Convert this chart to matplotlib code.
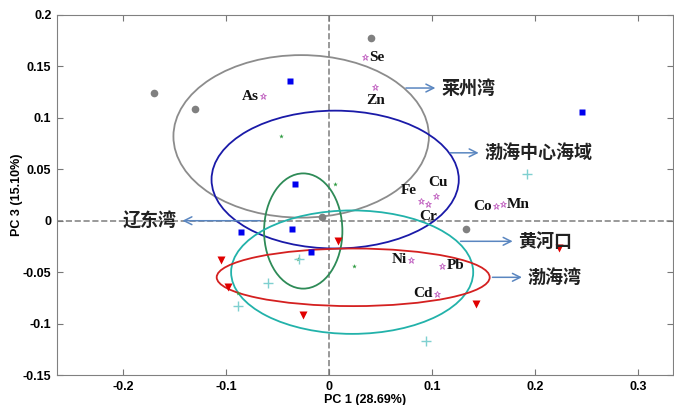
import matplotlib
matplotlib.use("Agg")
import matplotlib.pyplot as plt
from matplotlib.patches import Ellipse

# sample scores (PC1, PC3) per sea area
laizhou_x = [-0.170, -0.130, 0.041, -0.007, 0.133]
laizhou_y = [0.124, 0.109, 0.178, 0.004, -0.008]
center_x = [-0.038, -0.033, 0.246, -0.085, -0.036, -0.017]
center_y = [0.136, 0.036, 0.106, -0.011, -0.008, -0.030]
bohaiwan_x = [-0.105, -0.098, -0.025, 0.009, 0.223, 0.143]
bohaiwan_y = [-0.038, -0.064, -0.092, -0.020, -0.027, -0.081]
liaodong_x = [-0.047, 0.006, 0.024, -0.030, -0.088]
liaodong_y = [0.082, 0.036, -0.044, -0.037, -0.070]
huanghe_x = [0.192, -0.059, -0.088, -0.029, 0.094]
huanghe_y = [0.045, -0.061, -0.083, -0.037, -0.117]

# element loadings
elements = ["Se", "Zn", "As", "Fe", "Cr", "Cu", "Co", "Mn", "Ni", "Pb", "Cd"]
elem_x = [0.035, 0.045, -0.064, 0.089, 0.096, 0.104, 0.162, 0.169, 0.080, 0.110, 0.105]
elem_y = [0.159, 0.130, 0.121, 0.019, 0.016, 0.024, 0.014, 0.016, -0.038, -0.044, -0.071]

# ellipses: centre x, centre y, width, height
ell_laizhou = (-0.027, 0.082, 0.248, 0.158)
ell_center = (0.006, 0.040, 0.240, 0.134)
ell_liaodong = (-0.025, -0.010, 0.076, 0.112)
ell_huanghe = (0.0225, -0.050, 0.235, 0.120)
ell_bohaiwan = (0.0235, -0.055, 0.265, 0.056)

fig = plt.figure(figsize=(6.74, 4.05), dpi=100)
ax = fig.add_axes([0.0846, 0.074, 0.914, 0.889])

ax.axhline(0, color="#888888", ls="--", lw=1.2, zorder=1)
ax.axvline(0, color="#888888", ls="--", lw=1.2, zorder=1)

for e, c in [(ell_laizhou, "#8c8c8c"), (ell_center, "#1a1aa8"), (ell_liaodong, "#2e8b57"),
             (ell_huanghe, "#22b2aa"), (ell_bohaiwan, "#d42020")]:
    ax.add_patch(Ellipse((e[0], e[1]), e[2], e[3], fill=False, edgecolor=c, lw=1.3, zorder=2))

ax.plot(laizhou_x, laizhou_y, "o", color="#808080", ms=5.5, mec="none", zorder=3)
ax.plot(center_x, center_y, "s", color="#0000ee", ms=4.5, mec="none", zorder=3)
ax.plot(bohaiwan_x, bohaiwan_y, "v", color="#e00000", ms=5.5, mec="none", zorder=3)
ax.plot(liaodong_x, liaodong_y, "*", color="#2e9b40", ms=3.5, mec="none", zorder=3)
ax.plot(huanghe_x, huanghe_y, "+", color="#7fd0d0", ms=7, mew=1, zorder=3)
ax.plot(elem_x, elem_y, "*", mfc="none", mec="#c060c0", ms=4.5, mew=0.6, lw=0, zorder=4)

# label offsets in points
offs = {"Se": (3, 0, "left", "center"), "Zn": (0, -5, "center", "top"),
        "As": (-3, 0, "right", "center"), "Fe": (-3, 3, "right", "bottom"),
        "Cr": (0, -4, "center", "top"), "Cu": (1, 5, "center", "bottom"),
        "Co": (-3, 0, "right", "center"), "Mn": (3, 0, "left", "center"),
        "Ni": (-3, 0, "right", "center"), "Pb": (3, 0, "left", "center"),
        "Cd": (-3, 0, "right", "center")}
for name, x, y in zip(elements, elem_x, elem_y):
    dx, dy, ha, va = offs[name]
    ax.annotate(name, (x, y), xytext=(dx, dy), textcoords="offset points",
                ha=ha, va=va, fontsize=11, fontweight="bold",
                family="Liberation Serif", color="#111111", zorder=5)

# region labels with arrows
arrow_col = "#5a86c0"
regions = [("莱州湾", (0.072, 0.129), (0.106, 0.129)),
           ("渤海中心海域", (0.115, 0.066), (0.148, 0.066)),
           ("辽东湾", (-0.064, 0.0), (-0.145, 0.0)),
           ("黄河口", (0.125, -0.020), (0.181, -0.020)),
           ("渤海湾", (0.156, -0.055), (0.190, -0.055))]
cjk = ["Noto Sans CJK SC", "DejaVu Sans"]
for label, start, end in regions:
    ax.annotate("", xy=end, xytext=start,
                arrowprops=dict(arrowstyle="->", color=arrow_col, lw=1.1,
                                mutation_scale=14), zorder=5)
    if end[0] > start[0]:
        ax.text(end[0] + 0.003, end[1], label, ha="left", va="center",
                fontsize=13, fontweight="bold", family=cjk, color="#222222")
    else:
        ax.text(end[0] - 0.003, end[1], label, ha="right", va="center",
                fontsize=13, fontweight="bold", family=cjk, color="#222222")

ax.set_xlim(-0.264, 0.334)
ax.set_ylim(-0.15, 0.2)
ax.set_xticks([-0.2, -0.1, 0, 0.1, 0.2, 0.3])
ax.set_xticklabels(["-0.2", "-0.1", "0", "0.1", "0.2", "0.3"])
ax.set_yticks([-0.15, -0.1, -0.05, 0, 0.05, 0.1, 0.15, 0.2])
ax.set_yticklabels(["-0.15", "-0.1", "-0.05", "0", "0.05", "0.1", "0.15", "0.2"])
ax.tick_params(direction="in", length=4, top=True, right=True, color="#777777",
               labelsize=9, pad=4)
for lab in ax.get_xticklabels() + ax.get_yticklabels():
    lab.set_fontweight("bold")
    lab.set_family("Liberation Sans")
for sp in ax.spines.values():
    sp.set_color("#808080")

ax.set_xlabel("PC 1 (28.69%)", fontsize=9, fontweight="bold", family="Liberation Sans", labelpad=1)
ax.set_ylabel("PC 3 (15.10%)", fontsize=9, fontweight="bold", family="Liberation Sans", labelpad=0)

fig.savefig("out.png", dpi=100)
